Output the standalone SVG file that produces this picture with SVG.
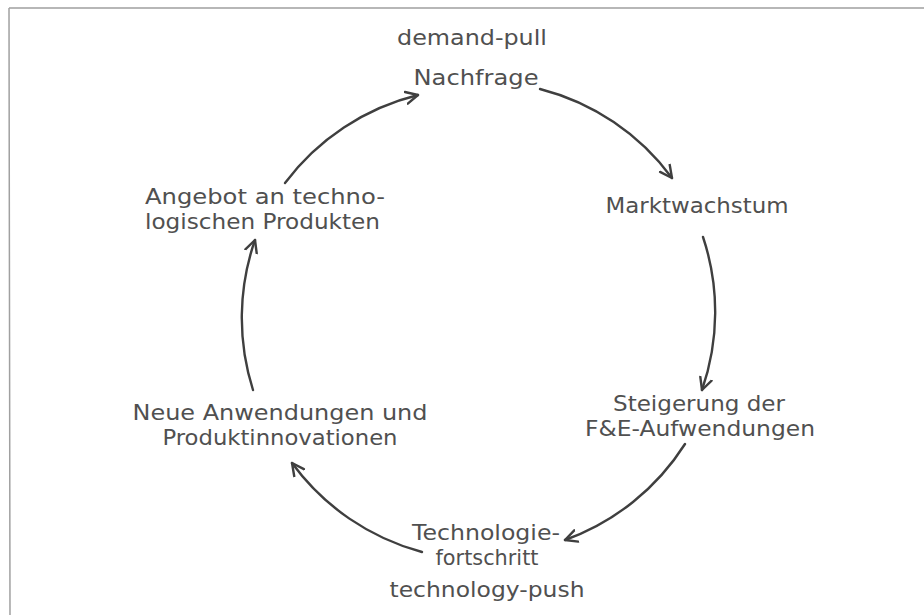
<svg xmlns="http://www.w3.org/2000/svg" width="924" height="615" viewBox="0 0 924 615">
  <style>
    .lbl { font-family: "DejaVu Sans", "Liberation Sans", sans-serif; font-size: 22px; fill: #505050; text-anchor: middle; }
    .lbl-start { text-anchor: start; }
    .arc { fill: none; stroke: #3f3f3f; stroke-width: 2.4; stroke-linecap: round; marker-end: url(#head); }
    .frame { stroke: #a0a0a0; stroke-width: 1.5; fill: none; }
  </style>
  <defs>
    <marker id="head" markerUnits="userSpaceOnUse" markerWidth="18" markerHeight="18" refX="13" refY="7" orient="auto" viewBox="0 0 18 14">
      <path d="M1,1 L13,7 L1,13" fill="none" stroke="#3f3f3f" stroke-width="2.4" stroke-linecap="round" stroke-linejoin="round"/>
    </marker>
  </defs>
  <rect width="924" height="615" fill="#ffffff"/>

  <!-- open frame: top and left edges -->
  <path class="frame" d="M9,8 L924,8 M9,8 L10,615"/>

  <!-- cycle connectors, arcs of one circle -->
  <g id="connectors">
    <path class="arc" d="M285,183 A237,237 0 0,1 418,95"/>
    <path class="arc" d="M540,89 A237,237 0 0,1 672,178"/>
    <path class="arc" d="M703,237 A237,237 0 0,1 702,390"/>
    <path class="arc" d="M685,444 A237,237 0 0,1 565,540"/>
    <path class="arc" d="M422,552 A237,237 0 0,1 292,463"/>
    <path class="arc" d="M253,390 A237,237 0 0,1 255,240"/>
  </g>

  <g id="demand-pull">
    <text class="lbl" x="472" y="45" textLength="150" lengthAdjust="spacingAndGlyphs">demand-pull</text>
  </g>
  <g id="nachfrage">
    <text class="lbl" x="476" y="85" textLength="125" lengthAdjust="spacingAndGlyphs">Nachfrage</text>
  </g>
  <g id="marktwachstum">
    <text class="lbl" x="697" y="213" textLength="183" lengthAdjust="spacingAndGlyphs">Marktwachstum</text>
  </g>
  <g id="steigerung">
    <text class="lbl" x="699" y="411" textLength="172" lengthAdjust="spacingAndGlyphs">Steigerung der</text>
    <text class="lbl" x="700" y="436" textLength="230" lengthAdjust="spacingAndGlyphs">F&amp;E-Aufwendungen</text>
  </g>
  <g id="technologiefortschritt">
    <text class="lbl" x="486" y="540" textLength="148" lengthAdjust="spacingAndGlyphs">Technologie-</text>
    <text class="lbl" x="487" y="565" textLength="103" lengthAdjust="spacingAndGlyphs">fortschritt</text>
  </g>
  <g id="technology-push">
    <text class="lbl" x="487" y="597" textLength="195" lengthAdjust="spacingAndGlyphs">technology-push</text>
  </g>
  <g id="neue-anwendungen">
    <text class="lbl" x="280" y="420" textLength="295" lengthAdjust="spacingAndGlyphs">Neue Anwendungen und</text>
    <text class="lbl" x="280" y="445" textLength="235" lengthAdjust="spacingAndGlyphs">Produktinnovationen</text>
  </g>
  <g id="angebot">
    <text class="lbl lbl-start" x="145" y="204" textLength="240" lengthAdjust="spacingAndGlyphs">Angebot an techno-</text>
    <text class="lbl lbl-start" x="145" y="229" textLength="235" lengthAdjust="spacingAndGlyphs">logischen Produkten</text>
  </g>
</svg>
